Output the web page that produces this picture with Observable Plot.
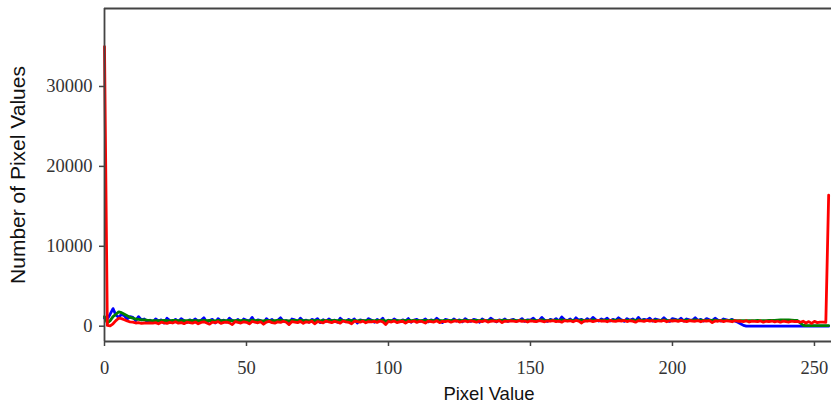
<!DOCTYPE html>
<html>
<head>
<meta charset="utf-8">
<script src="https://cdn.jsdelivr.net/npm/d3@7"></script>
<script src="https://cdn.jsdelivr.net/npm/@observablehq/plot@0.6"></script>
<style>
  html, body { margin: 0; padding: 0; background: #fff; overflow: hidden; }
</style>
</head>
<body>
<div id="chart"></div>
<script>
const xLabel = "Pixel Value";
const yLabel = "Number of Pixel Values";
const xTicks = [0, 50, 100, 150, 200, 250];
const yTicks = [0, 10000, 20000, 30000];

const blueCounts = [
  1000, 900, 1500, 2200, 1400, 1100, 1500, 1300, 900, 1200, 1100, 700, 1200, 800, 900, 600,
  750, 500, 900, 650, 800, 400, 1000, 700, 600, 850, 550, 950, 700, 450, 800, 650,
  900, 600, 750, 1050, 500, 700, 850, 400, 950, 650, 750, 550, 1000, 700, 600, 850,
  450, 900, 750, 600, 1100, 550, 800, 700, 350, 950, 650, 850, 500, 750, 1050, 600,
  700, 400, 900, 800, 550, 1000, 650, 750, 500, 850, 700, 950, 450, 800, 600, 900,
  650, 750, 500, 1000, 700, 550, 850, 650, 900, 400, 800, 700, 600, 950, 750, 500,
  850, 650, 1000, 300, 750, 600, 900, 700, 550, 800, 650, 950, 500, 750, 850, 600,
  700, 900, 550, 800, 650, 1000, 700, 450, 850, 750, 600, 900, 650, 800, 550, 950,
  700, 600, 850, 750, 500, 900, 700, 650, 1000, 750, 550, 800, 700, 900, 600, 750,
  850, 650, 700, 950, 600, 800, 750, 1000, 650, 700, 1100, 750, 600, 850, 700, 950,
  650, 1150, 800, 700, 900, 600, 1050, 750, 850, 650, 950, 700, 1100, 800, 650, 900,
  750, 1000, 650, 850, 700, 1050, 800, 600, 950, 750, 900, 650, 1100, 700, 850, 750,
  1000, 650, 900, 800, 700, 1050, 750, 600, 950, 850, 700, 1000, 650, 900, 800, 750,
  1050, 700, 850, 650, 950, 800, 700, 1000, 750, 650, 900, 800, 700, 850, 650, 500,
  300, 100, 0, 0, 0, 0, 0, 0, 0, 0, 0, 0, 0, 0, 0, 0,
  0, 0, 0, 0, 0, 0, 0, 0, 0, 0, 0, 0, 0, 0, 0, 0
];

const greenCounts = [
  1200, 400, 700, 1200, 1500, 1800, 1700, 1500, 1300, 1100, 1000, 900, 850, 800, 800, 750,
  720, 700, 680, 710, 690, 730, 700, 670, 720, 740, 690, 710, 680, 700, 730, 690,
  710, 680, 700, 740, 690, 720, 700, 660, 730, 700, 690, 710, 740, 680, 700, 720,
  690, 730, 700, 680, 750, 700, 720, 690, 670, 740, 700, 710, 680, 720, 750, 690,
  700, 670, 720, 740, 690, 760, 700, 710, 680, 730, 700, 740, 670, 720, 690, 730,
  700, 720, 680, 760, 700, 690, 730, 710, 740, 670, 720, 700, 690, 750, 710, 680,
  730, 700, 760, 640, 720, 690, 740, 710, 680, 730, 700, 750, 690, 720, 740, 700,
  710, 740, 690, 720, 700, 760, 710, 680, 740, 720, 700, 750, 710, 730, 690, 760,
  720, 700, 740, 730, 690, 750, 720, 710, 770, 730, 700, 740, 720, 750, 700, 730,
  750, 710, 720, 760, 700, 740, 730, 770, 710, 720, 780, 730, 700, 750, 720, 760,
  710, 780, 740, 720, 760, 700, 770, 730, 750, 710, 760, 720, 780, 740, 710, 750,
  730, 770, 710, 750, 720, 780, 740, 700, 760, 730, 750, 710, 780, 720, 750, 730,
  770, 710, 750, 740, 720, 780, 730, 700, 760, 750, 720, 770, 710, 750, 740, 730,
  780, 720, 750, 710, 760, 740, 720, 770, 730, 710, 750, 740, 720, 750, 710, 700,
  690, 700, 680, 710, 700, 690, 720, 700, 710, 690, 720, 740, 730, 760, 780, 790,
  800, 780, 760, 740, 720, 400, 120, 80, 80, 80, 80, 80, 80, 80, 80, 80
];

const redCounts = [
  35000, 100, 50, 300, 700, 1000, 950, 800, 650, 550, 500, 400, 450, 350, 400, 380,
  420, 380, 450, 300, 500, 420, 350, 480, 400, 550, 380, 460, 320, 500, 440, 380,
  520, 300, 470, 550, 400, 250, 500, 450, 580, 350, 480, 520, 420, 200, 560, 470,
  400, 550, 480, 300, 590, 500, 430, 560, 250, 520, 600, 450, 380, 550, 480, 620,
  500, 200, 580, 520, 450, 600, 350, 550, 480, 620, 300, 560, 500, 420, 650, 530,
  450, 600, 520, 380, 650, 550, 480, 300, 620, 560, 500, 640, 420, 580, 530, 600,
  480, 650, 550, 200, 600, 520, 660, 450, 580, 620, 380, 600, 550, 650, 480, 620,
  560, 400, 640, 580, 520, 680, 450, 600, 560, 650, 500, 620, 680, 520, 600, 650,
  550, 680, 600, 500, 650, 580, 700, 520, 620, 660, 580, 700, 450, 640, 600, 680,
  620, 560, 700, 600, 650, 520, 680, 620, 580, 700, 640, 550, 680, 620, 700, 580,
  650, 500, 700, 620, 680, 560, 720, 640, 400, 680, 620, 700, 580, 660, 720, 620,
  680, 550, 720, 640, 600, 700, 650, 720, 580, 680, 640, 500, 700, 660, 600, 720,
  640, 700, 580, 680, 620, 720, 560, 680, 650, 700, 600, 720, 640, 580, 700, 650,
  620, 700, 560, 680, 640, 700, 450, 660, 620, 700, 580, 680, 640, 560, 700, 620,
  650, 580, 680, 520, 640, 600, 560, 660, 500, 620, 580, 650, 540, 620, 500, 640,
  580, 520, 640, 560, 600, 500, 620, 400, 580, 350, 600, 450, 520, 500, 480, 16400
];

const channels = [
  {name: "blue", color: "#0000ff", counts: blueCounts},
  {name: "green", color: "#008000", counts: greenCounts},
  {name: "red", color: "#ff0000", counts: redCounts}
];

const xDomain = [0, 256];
const yDomain = [-1915, 39760];
const spine = "#444";
const serif = "'Liberation Serif', 'DejaVu Serif', serif";
const sans = "'Liberation Sans', Arial, sans-serif";

const lineMarks = channels.map(ch =>
  Plot.lineY(ch.counts, {x: (d, i) => i, y: d => d, stroke: ch.color, strokeWidth: 2.8, strokeLinejoin: "round"})
);

const chart = Plot.plot({
  width: 831,
  height: 413,
  marginLeft: 104,
  marginRight: 0,
  marginTop: 8,
  marginBottom: 72,
  style: {background: "#fff"},
  x: {domain: xDomain},
  y: {domain: yDomain},
  marks: [
    ...lineMarks,
    Plot.ruleY([yDomain[1]], {stroke: spine, strokeWidth: 1.8}),
    Plot.ruleY([yDomain[0]], {stroke: spine, strokeWidth: 1.8}),
    Plot.ruleX([xDomain[0]], {stroke: spine, strokeWidth: 1.8}),
    Plot.axisX({ticks: xTicks, tickSize: 5, tickPadding: 14, stroke: spine, strokeWidth: 1.5,
      fontSize: 18.5, fontFamily: serif, fill: "#333", label: null, tickFormat: d3.format("d")}),
    Plot.axisY({ticks: yTicks, tickSize: 5, tickPadding: 7, stroke: spine, strokeWidth: 1.5,
      fontSize: 18.5, fontFamily: serif, fill: "#333", label: null, tickFormat: d3.format("d")}),
    Plot.text([xLabel], {text: d => d, frameAnchor: "bottom", dx: 21, dy: 58,
      fontSize: 18.5, fontFamily: sans, fill: "#111"}),
    Plot.text([yLabel], {text: d => d, frameAnchor: "left", textAnchor: "middle", dx: -86, rotate: -90,
      fontSize: 21, fontFamily: sans, fill: "#111"})
  ]
});
document.getElementById("chart").appendChild(chart);
</script>
</body>
</html>
